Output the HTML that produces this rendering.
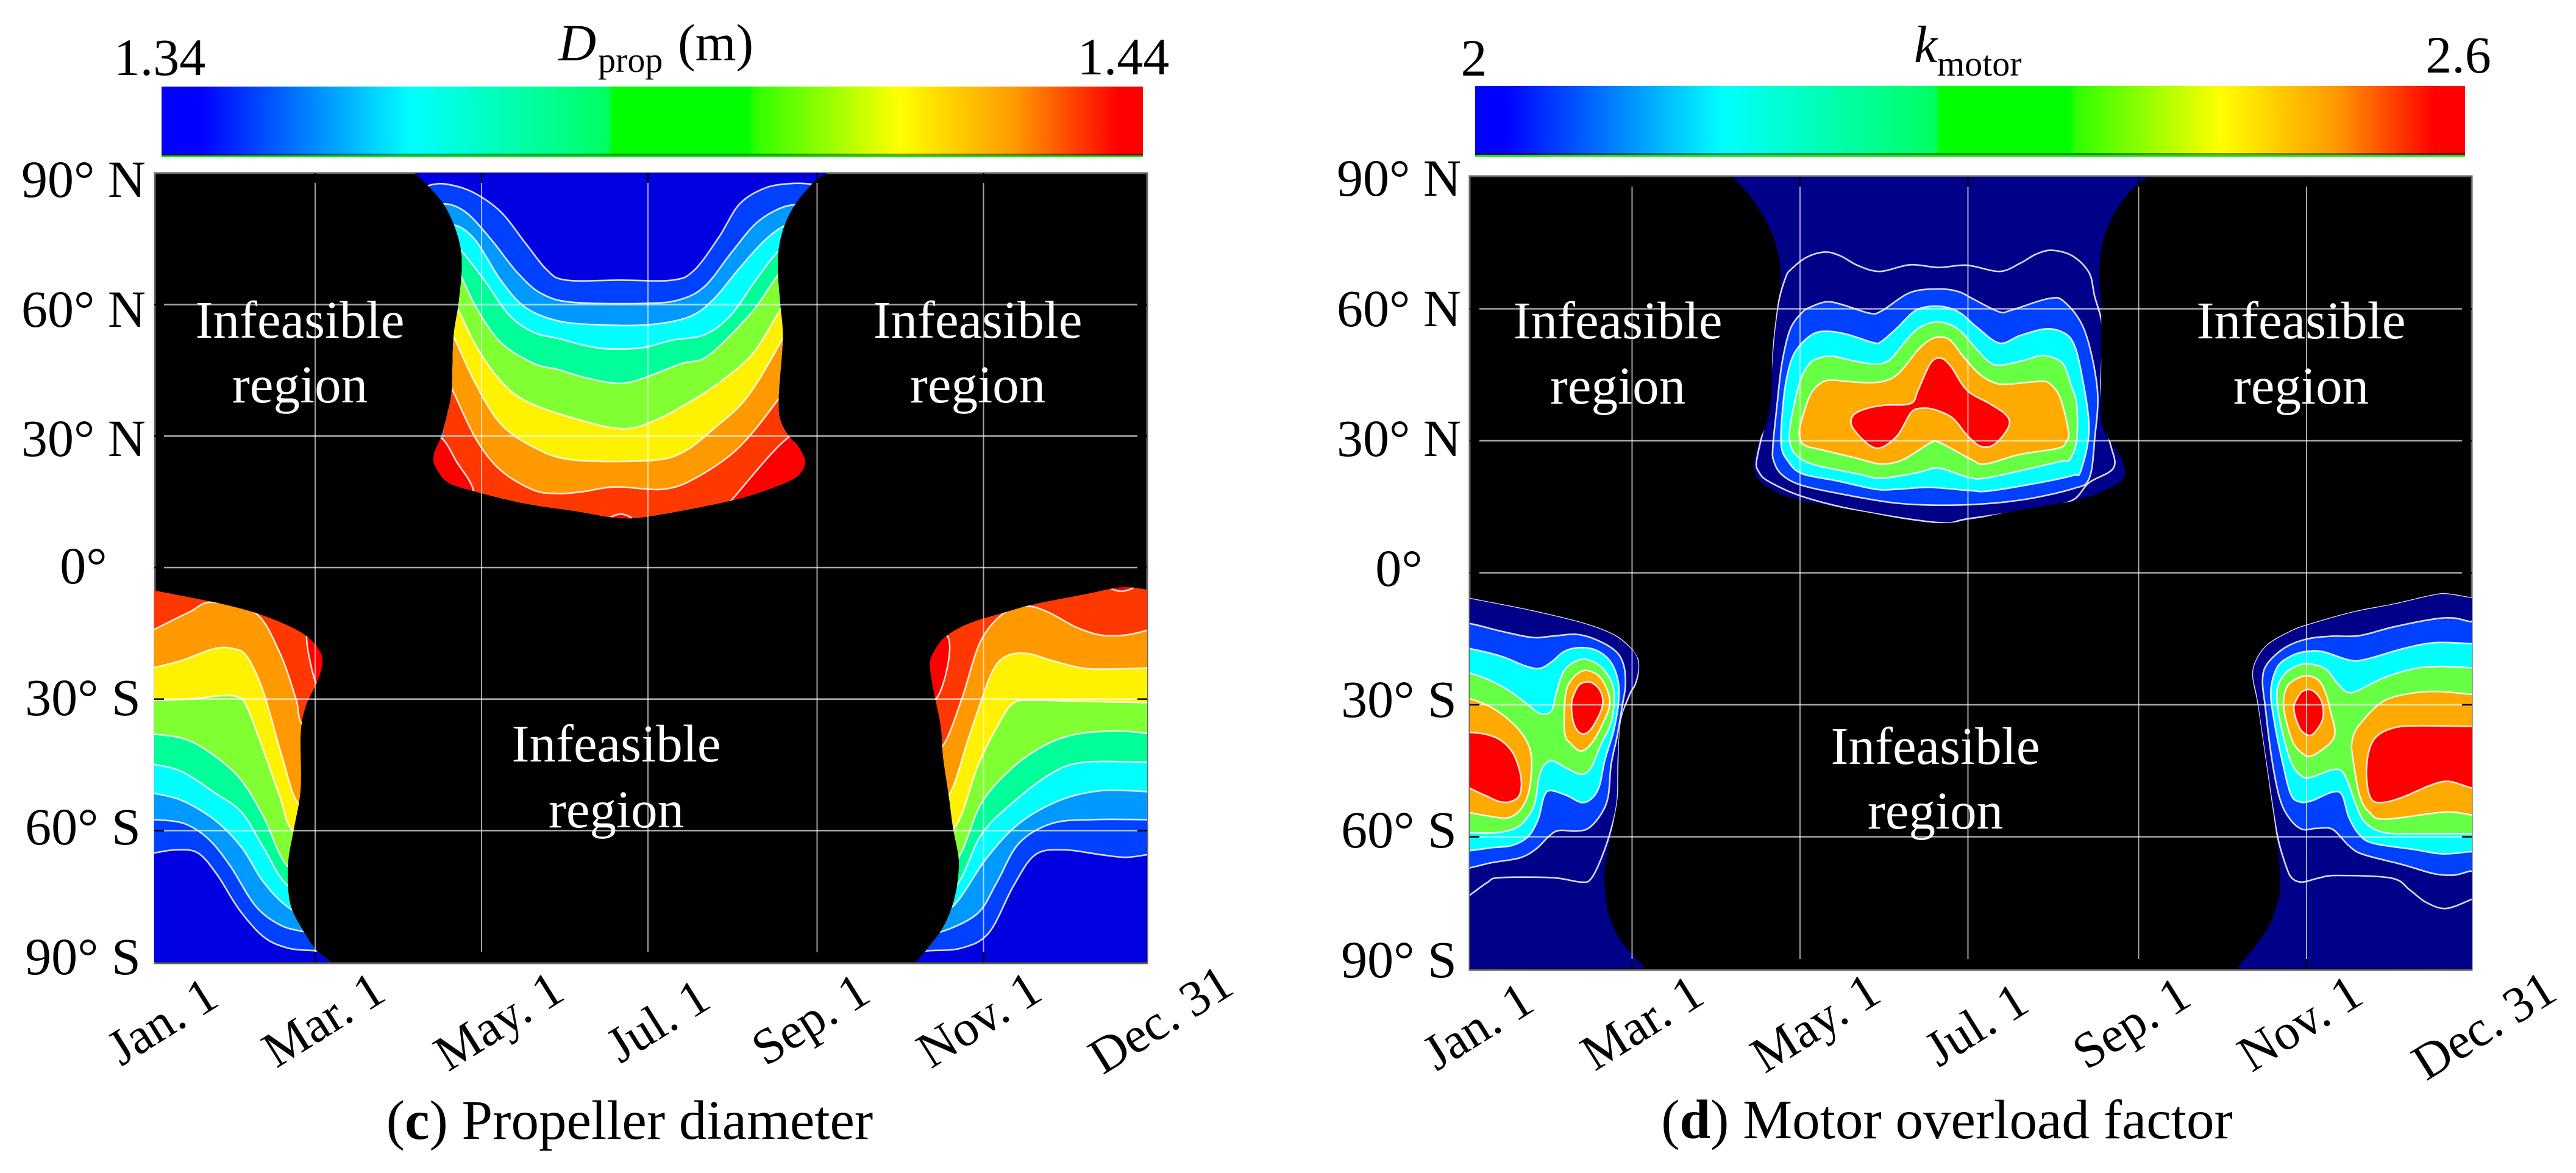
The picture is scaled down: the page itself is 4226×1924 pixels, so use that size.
<!DOCTYPE html>
<html lang="en">
<head>
<meta charset="utf-8">
<title>Propeller diameter and motor overload factor</title>
<style>
html,body{margin:0;padding:0;background:#fff;width:4226px;height:1924px;overflow:hidden}
svg{display:block}
text{font-family:"Liberation Serif",serif;font-size:86px;fill:#000}
.w{fill:#fff;font-size:87px;text-anchor:middle}
.m{text-anchor:middle}
.e{text-anchor:end;font-size:83px}
.cap{text-anchor:middle;font-size:91px}
</style>
</head>
<body>
<svg id="fig" xmlns="http://www.w3.org/2000/svg" width="4226" height="1924" viewBox="0 0 4226 1924">
<defs>
<linearGradient id="cbC" x1="0" x2="1" y1="0" y2="0">
<stop offset="0" stop-color="#0000ff"/><stop offset=".04" stop-color="#0000ff"/><stop offset=".254" stop-color="#00ffff"/><stop offset=".455" stop-color="#00ff60"/><stop offset=".46" stop-color="#00ff00"/><stop offset=".597" stop-color="#00ff00"/><stop offset=".606" stop-color="#30ff00"/><stop offset=".752" stop-color="#ffff00"/><stop offset=".87" stop-color="#ff9900"/><stop offset=".975" stop-color="#ff0000"/><stop offset="1" stop-color="#ff0000"/>
</linearGradient>
<linearGradient id="cbD" x1="0" x2="1" y1="0" y2="0">
<stop offset="0" stop-color="#0000ff"/><stop offset=".03" stop-color="#0000ff"/><stop offset=".25" stop-color="#00ffff"/><stop offset=".465" stop-color="#00ff60"/><stop offset=".47" stop-color="#00ff00"/><stop offset=".6" stop-color="#00ff00"/><stop offset=".608" stop-color="#30ff00"/><stop offset=".753" stop-color="#ffff00"/><stop offset=".87" stop-color="#ff9900"/><stop offset=".97" stop-color="#ff0000"/><stop offset="1" stop-color="#ff0000"/>
</linearGradient>
</defs>

<g>
<rect x="265" y="255" width="1610" height="3" fill="#00f000"/>
<rect x="265" y="142" width="1610" height="113" fill="url(#cbC)"/>
<rect x="265" y="252" width="1610" height="3" fill="#000" fill-opacity=".45"/>
<text class="m" x="262" y="123">1.34</text>
<text class="m" x="1843" y="122">1.44</text>
<text x="916" y="99"><tspan font-style="italic">D</tspan><tspan x="981" y="118" font-size="58">prop</tspan><tspan x="1112" y="99">(m)</tspan></text>
</g>
<g>
<rect x="2420" y="254" width="1624" height="3" fill="#00f000"/>
<rect x="2420" y="141" width="1624" height="113" fill="url(#cbD)"/>
<rect x="2420" y="251" width="1624" height="3" fill="#000" fill-opacity=".45"/>
<text class="m" x="2418" y="124">2</text>
<text class="m" x="4033" y="119">2.6</text>
<text x="3140" y="102"><tspan font-style="italic">k</tspan><tspan x="3178" y="124" font-size="58">motor</tspan></text>
</g>

<rect x="254" y="284" width="1628" height="1296" fill="#000" stroke="#666" stroke-width="3"/>
<rect x="2411" y="289" width="1644" height="1302" fill="#000" stroke="#666" stroke-width="3"/>

<g id="plotC"></g>
<g id="plotD"></g>
<g id="gridC"></g>
<g id="gridD"></g>

<g>
<text class="m" x="137" y="323">90° N</text>
<text class="m" x="137" y="536">60° N</text>
<text class="m" x="137" y="748">30° N</text>
<text class="m" x="137" y="957">0°</text>
<text class="m" x="136" y="1173">30° S</text>
<text class="m" x="136" y="1385">60° S</text>
<text class="m" x="136" y="1598">90° S</text>
</g>
<g>
<text class="m" x="2295" y="321">90° N</text>
<text class="m" x="2295" y="535">60° N</text>
<text class="m" x="2295" y="748">30° N</text>
<text class="m" x="2295" y="961">0°</text>
<text class="m" x="2295" y="1176">30° S</text>
<text class="m" x="2295" y="1390">60° S</text>
<text class="m" x="2295" y="1603">90° S</text>
</g>
<g>
<text class="e" transform="translate(363,1647) rotate(-32)">Jan. 1</text>
<text class="e" transform="translate(637,1638) rotate(-32)">Mar. 1</text>
<text class="e" transform="translate(930,1637) rotate(-32)">May. 1</text>
<text class="e" transform="translate(1170,1650) rotate(-32)">Jul. 1</text>
<text class="e" transform="translate(1432,1640) rotate(-32)">Sep. 1</text>
<text class="e" transform="translate(1714,1637) rotate(-32)">Nov. 1</text>
<text class="e" transform="translate(2028,1627) rotate(-32)">Dec. 31</text>
</g>
<g>
<text class="e" transform="translate(2521,1655) rotate(-32)">Jan. 1</text>
<text class="e" transform="translate(2800,1643) rotate(-32)">Mar. 1</text>
<text class="e" transform="translate(3090,1640) rotate(-32)">May. 1</text>
<text class="e" transform="translate(3333,1656) rotate(-32)">Jul. 1</text>
<text class="e" transform="translate(3599,1646) rotate(-32)">Sep. 1</text>
<text class="e" transform="translate(3881,1643) rotate(-32)">Nov. 1</text>
<text class="e" transform="translate(4199,1637) rotate(-32)">Dec. 31</text>
</g>

<g>
<text class="w" x="492" y="554">Infeasible</text>
<text class="w" x="492" y="660">region</text>
<text class="w" x="1604" y="554">Infeasible</text>
<text class="w" x="1604" y="660">region</text>
<text class="w" x="1011" y="1249">Infeasible</text>
<text class="w" x="1011" y="1357">region</text>
</g>
<g>
<text class="w" x="2654" y="555">Infeasible</text>
<text class="w" x="2654" y="662">region</text>
<text class="w" x="3775" y="555">Infeasible</text>
<text class="w" x="3775" y="662">region</text>
<text class="w" x="3175" y="1253">Infeasible</text>
<text class="w" x="3175" y="1359">region</text>
</g>

<text class="cap" x="1033" y="1868">(<tspan font-weight="bold">c</tspan>) Propeller diameter</text>
<text class="cap" x="3194" y="1867">(<tspan font-weight="bold">d</tspan>) Motor overload factor</text>
</svg>

<script>
// Axis tick values (day of year, latitude in degrees)
const gridDays = [60, 121, 182, 244, 305];
const gridLats = [60, 30, 0, -30, -60];

// ===== Panel (c): propeller diameter. All points are [day of year, latitude] =====
const cNorthBoundary = [[96.6,90],[101.7,86.9],[107.1,82.9],[111,78],[113.4,72.7],[113.7,67.4],[112.5,60],[110.7,52.3],[110.1,40.8],[108.6,35.5],[106.2,30],[103.5,25.7],[104.1,23.1],[108.6,19.5],[119.1,17.3],[137.2,14.6],[155.3,12.9],[171.8,11.3],[185.4,12],[212.5,15.3],[227.5,18.2],[236.6,20.8],[239.6,24],[237.2,27.5],[233.6,30],[230.5,33.7],[229.9,39],[231.4,52.3],[230.5,60],[229.6,67.4],[229.9,72.7],[232,78],[236,82.9],[242.6,87.8],[247.7,90]];
const cN1 = [[97,86],[103,87.4],[109,87.4],[118,85.6],[128,81.2],[137,74.1],[145,67.9],[152,65.6],[172,65.6],[191,65.6],[199,67.9],[208,75.4],[215.5,82.9],[224.5,86.5],[233.6,87.6],[242.6,87.4],[248.6,86]];
const cN2 = [[103,82.5],[109,82.9],[116,80.7],[125,74.5],[134,67.4],[143,62.5],[155,60.5],[182,60.3],[194,61.2],[203,64.3],[212.5,71.8],[221.5,78.5],[230.5,82],[238,82.9],[243,82.5]];
const cN3 = [[107,77.2],[112,78],[119,74.5],[128,65.6],[137,59.4],[149,56.3],[164,55.4],[182,55.4],[197,57.2],[206,61.2],[215.5,68.3],[224.5,74.5],[232,78],[238,78.5]];
const cN4 = [[109,74.5],[113,72.7],[122,65.6],[131,57.7],[140,53.7],[149,52.3],[164,50.1],[179,50.1],[191,51.9],[203,53.2],[212.5,57.7],[221.5,65.6],[230,72.3],[237,74.5]];
const cN5 = [[109,69.2],[113,67],[119,59.4],[128,51.4],[140,46.6],[149,45.2],[158,43.5],[169,42.1],[176,42.4],[185,44.3],[194.5,46.6],[203,47.9],[212.5,53.2],[221.5,59.4],[230,67],[235,69.2]];
const cN6 = [[109,62.1],[112,59.4],[119,50.6],[128,42.6],[137,38.1],[152,34.6],[172,31.7],[185,33.7],[200.5,39],[212.5,44.3],[221.5,49.7],[231.5,59.9],[237,63.9]];
const cN7 = [[107,56.8],[111,52.3],[119,41.7],[128,32.8],[140,27.5],[154,24.6],[182,24.4],[194.5,26.2],[206.5,31.9],[218.5,39],[231.5,52.3],[237,58.5]];
const cN8 = [[107,44.3],[110.4,40.4],[119,29.3],[128,22.2],[140,17.7],[149,16.9],[158,17.3],[170,18.4],[188,17.9],[200.5,20.8],[215.5,27.5],[230,38.6],[235,44.3]];
const cNorthContours = [cN1, cN2, cN3, cN4, cN5, cN6, cN7, cN8];
const cNorthRedLeft = [[98,29.7],[106,29.7],[112,24],[118,17.7],[118,10],[98,10]];
const cNorthRedRight = [[233.5,29.7],[212.5,15.3],[205,10],[245,10],[245,29.7]];
const cNorthRedTip = [[168,11.2],[172,12.2],[176,11.2],[172,10]];

const cSouthLeftBoundary = [[1,-5.2],[23,-7.9],[38,-10.3],[50,-13.2],[57.4,-15.9],[62,-19.4],[62.5,-22.5],[60.4,-26.5],[56.5,-31.8],[54.7,-38],[54.7,-50.4],[52.3,-59.3],[50.2,-66.4],[50,-72.6],[51.4,-77.9],[56,-83.3],[60.4,-87.3],[65.8,-90]];
const cSouthRightBoundary = [[280.2,-90],[284.7,-86.8],[289.9,-82.4],[293.2,-77.9],[295.3,-72.6],[295.9,-66.4],[293.8,-59.3],[292.3,-52.2],[290.2,-43.4],[289.3,-36.3],[287.2,-29.6],[285.4,-22.9],[286.3,-19.8],[290.8,-15.9],[299.8,-12.7],[313.4,-10.1],[323.9,-8.3],[342,-6.1],[355.5,-4.5],[365,-5]];
const cA1 = [[1,-14.1],[14,-10.1],[22,-7.9],[38,-10.3],[47,-19.4],[53,-30],[56,-36.3],[71,-41.6]];
const cA2 = [[1,-22.8],[11,-21.2],[23,-18.5],[30,-18.5],[35,-20.3],[41,-28.3],[48,-43.4],[54,-54],[65,-56.7]];
const cA3 = [[1,-30.3],[14,-30],[26,-29.2],[32,-29.6],[35,-31.8],[41,-41.6],[47,-52.2],[52,-60.2],[65,-62.9]];
const cA4 = [[1,-38],[11,-38.9],[20,-41.6],[32,-47.8],[41,-56.7],[50,-68.2],[65,-72.6]];
const cA5 = [[1,-44.9],[11,-46.5],[23,-51.3],[33,-55.8],[41,-63.8],[50,-72.6],[65,-77.1]];
const cA6 = [[1,-51.5],[11,-53.1],[23,-57.5],[33,-63.8],[41,-71.7],[51,-77.9],[65,-81.5]];
const cA7 = [[1,-57.5],[12,-58.4],[21,-62],[29,-68.2],[38,-77.1],[47,-81.5],[56,-83.1],[65,-84.2]];
const cA8 = [[1,-65.1],[9,-64.4],[17,-65.1],[24,-70],[32,-77.9],[41,-84.2],[50,-86.8],[60,-87.4],[71,-87.7]];
const cSouthLeftContours = [cA1, cA2, cA3, cA4, cA5, cA6, cA7, cA8];
const cSouthLeftRed = [[57,-15],[60.4,-26.5],[65,-26.5],[65,-15]];
const cB1 = [[282,-42.5],[290,-40.7],[297,-30],[304,-16.7],[313,-10.1],[321,-8.8],[328.5,-10.1],[339,-13.6],[348,-15.4],[357,-15.4],[365,-14.3]];
const cB2 = [[282,-54],[292,-52.2],[300,-38],[307.5,-24.7],[313,-20.3],[321,-19.6],[330,-21.2],[342,-23],[354,-23.1],[365,-22.9]];
const cB3 = [[282,-62.9],[294.5,-59.3],[303,-45.1],[310,-36.3],[316,-30.9],[324,-30.3],[342,-30.5],[365,-30.8]];
const cB4 = [[282,-70],[295,-66.9],[304,-54],[315,-46],[327,-40.7],[339,-38],[354,-37.3],[365,-37.8]];
const cB5 = [[282,-77.1],[295,-72.6],[304,-61.1],[315,-54],[330,-46.9],[342,-44.4],[365,-44.4]];
const cB6 = [[282,-80.6],[294,-77.1],[306,-66.4],[318,-58.4],[333,-53.1],[348,-50.9],[365,-51.1]];
const cB7 = [[282,-83.7],[291,-82.8],[303,-78.8],[310,-71.7],[318,-62.9],[330,-58.4],[345,-57.5],[365,-57.5]];
const cB8 = [[279,-87.7],[285,-87.4],[297,-86.8],[307,-83.3],[316,-72.6],[324,-65.5],[334.5,-64.4],[348,-65.5],[357,-66.1],[365,-65.5]];
const cSouthRightContours = [cB1, cB2, cB3, cB4, cB5, cB6, cB7, cB8];
const cSouthRightRed = [[276,-15.9],[292,-15.9],[288,-29.6],[276,-29.6]];
const cSouthRightTip = [[351,-3],[351,-4.5],[355.5,-5.4],[360,-4.5],[360,-3]];

// ===== Panel (d): motor overload factor =====
const dNorthBoundary = [[96.4,90],[103.6,85],[109.6,78.8],[113,72.6],[114,66.4],[112.5,59.4],[111,50.5],[110.5,39.9],[108.7,33.8],[105.7,29.3],[104.2,24.9],[105.7,21.4],[111,18.8],[120,16.7],[143.9,13.9],[172.2,11.3],[197.6,13.9],[221.5,16.5],[233.4,19.2],[238.8,21.8],[237.9,25.8],[233.4,30.2],[230.4,34.6],[230.4,41.7],[230.4,59.4],[229.8,68.2],[231,75.3],[234.9,81.4],[240.9,86.7],[247.4,90]];
const dN1 = [[113.3,61.8],[115.9,67.3],[117.8,69],[123.3,71.7],[130,72.9],[135.8,72],[141.8,69.9],[149.9,68.5],[161,70],[171.3,69.4],[181.6,69.9],[193.4,68.5],[200.8,70.3],[206.7,72.4],[212.6,73.3],[220,72],[226,68.2],[228,62.9],[231,55],[230.4,41.7],[233.4,30.2],[235,24],[226,20.5],[220,16.5],[208.2,14.7],[182.3,12.3],[171.3,11.4],[141.8,14.2],[121.1,17.5],[109.3,20.9],[106,23],[105.2,25.3],[107.4,31.8],[109.3,36.9],[110.4,45.2],[111.5,53.9]];
const dN2 = [[124.8,60.4],[130.7,61.6],[136.6,60.9],[146.2,59],[150.6,59.5],[161,63.7],[171.3,64.5],[178.6,63.9],[184.6,62],[193.4,59.3],[197.8,59.7],[211.1,62.3],[217,61.6],[224.4,55],[229,41.7],[228,30.2],[226,21.4],[220,19.1],[200.8,16.5],[178.6,15.4],[156.5,15.8],[134.4,18.1],[121.1,20],[114.4,22.3],[111.5,25.3],[111.1,28.5],[112.6,37.8],[114.4,47.5],[117.4,55.3],[121.5,59]];
const dN3 = [[125.5,54.2],[130.7,54.9],[138.1,54.2],[147.7,52.3],[150.6,52.6],[156.5,55.8],[163.2,59.7],[171.3,60.6],[178.6,59.3],[185.3,55.8],[193.4,52.2],[200.8,53.9],[209.6,55.4],[215.6,54.9],[220,52.6],[223,46.1],[226,32.9],[223,23.2],[220,22.1],[208.2,20.5],[189.7,18.6],[182.3,18.7],[168.3,19.4],[156.5,19],[148.4,19],[134.4,20.9],[121.8,22.5],[116.7,25.3],[114.1,29.5],[115.2,40.5],[117.4,47.5],[120.3,51.2]];
const dN4 = [[128.5,48.9],[133,49.2],[140.3,48.2],[147.7,47.5],[153.6,48.4],[161,53.9],[166.1,56.3],[172,57],[178.6,55.3],[184.6,51.2],[189.7,47.9],[194.1,47.2],[203,48.4],[208.9,49.4],[214.1,48.6],[217,47],[219.6,42.4],[221.5,38.2],[221.5,30.2],[219,25.8],[215.6,25.3],[204.5,23.7],[188.2,21.5],[181.6,21.8],[171.3,23.8],[163.9,22.8],[150.6,21.5],[141.8,22.5],[127,24.4],[121.1,26],[117.8,28.5],[117.4,33.2],[120.7,42.9],[124.4,47.5]];
const dN5 = [[132.2,43.8],[138.1,43.5],[147,43.2],[153.6,44],[158,46.1],[163.9,50.7],[168.3,53],[172,53.6],[175.7,52.8],[180.1,49.3],[186.1,45.2],[192,43.1],[197.1,42.9],[208.2,43.5],[211.9,42.9],[215.6,39.6],[218.5,32.2],[217.8,29.9],[214.8,28.3],[200.8,26.9],[188.2,24.7],[183.1,25.8],[172,29.5],[168.3,29.5],[158.7,25.8],[150.6,24.7],[141.8,26],[129.2,27.9],[122.6,29],[120.7,31.3],[121.5,34.5],[124.8,40.5],[128.5,43.1]];
const dN6 = [[139.5,34.3],[141,36.2],[146.2,37.5],[152.1,38.1],[161.3,38.5],[163.9,41.5],[168.3,47.5],[171.9,48.8],[175.7,47],[181.6,41.5],[189.7,38.5],[195.3,36.2],[197.1,34.1],[194.9,31.3],[190.8,28.9],[186.4,28.8],[181.6,31.3],[176.4,35.2],[169.8,37.1],[165,37.4],[161.3,36.4],[156.5,31.3],[150.6,28.5],[146.2,29],[141,32.2]];
const dNorthLoops = [dN2, dN3, dN4, dN5, dN6];

const dSouthLeftBoundary = [[1,-5.7],[23.7,-8.5],[42.1,-11.3],[53.2,-13.9],[59.1,-16.7],[62,-19.2],[62.6,-21.5],[61.7,-24.9],[59.1,-28.3],[56.5,-32.3],[55.4,-36.8],[55,-45.3],[54.7,-51.5],[52.4,-59.4],[50.2,-66.8],[50.1,-71.8],[51.7,-78],[55.4,-83.2],[59.8,-86.5],[65,-89.9]];
const dSouthRightBoundary = [[279.7,-89.9],[290,-81.7],[294.5,-74.9],[295.3,-71.2],[295.3,-67.5],[294.1,-60.1],[291.6,-49],[289.3,-38.9],[287.1,-29.6],[285.3,-23.6],[286.4,-20],[290.8,-16.2],[299.7,-13],[307,-11.4],[321.8,-8.8],[336.6,-7],[351.3,-4.9],[356.5,-4.7],[365,-5.6]];
const dLeftLine = [[1,-73.3],[7.4,-70.4],[11.8,-69.3],[31,-69.3],[41.4,-70.3],[45,-69.6],[48.7,-65.1],[52.4,-58.3],[54.7,-51.5],[55,-42.4],[56.1,-33.4],[59.1,-27.7],[61.3,-25.2],[62.6,-21.5],[61.7,-18.7],[59.1,-16.7],[53.2,-13.9],[42.1,-11.3],[23.7,-8.5],[1,-5.7]];
const dL2 = [[-8,-11],[1.5,-11.6],[12.6,-13.3],[23.7,-14.7],[31,-14.4],[39.9,-14],[47.3,-15.3],[54,-17.8],[56.9,-20.9],[57.6,-25.5],[56.5,-30],[54.7,-36.8],[52.4,-43.6],[51.3,-50.9],[48.7,-54.9],[44.3,-58],[39.9,-58.7],[33.2,-58.6],[29.6,-60],[25.1,-62.8],[19.2,-64.8],[8.9,-65.9],[1.5,-67],[-8,-68]];
const dL3 = [[-8,-16.5],[1.5,-17.3],[12.6,-19],[21.4,-21.2],[26.6,-21.7],[31,-20.1],[35.5,-17.8],[41.4,-17],[47.3,-17.7],[52.4,-20.4],[55,-24.9],[55,-30],[53.2,-36.2],[50.2,-42.4],[48,-48.7],[45,-51.5],[41.4,-52.2],[36.2,-50.6],[30.3,-49.5],[28,-50.9],[25.9,-56],[22.2,-60],[16.3,-62],[8.9,-62.5],[1.5,-63.1],[-8,-63.5]];
const dL4 = [[-8,-22],[1.5,-22.9],[8.9,-24.6],[16.3,-27.2],[22.2,-30],[26.6,-32],[30.7,-31.4],[32.5,-27.2],[35.5,-22.1],[41.4,-19.7],[47.3,-20.7],[51.7,-23.8],[53.5,-27.7],[52.4,-34],[48.7,-39],[45,-44.4],[41.4,-45.8],[36.2,-44.4],[30.3,-42.7],[26.6,-45.5],[24.8,-52],[22.2,-55.4],[17.8,-58],[10.4,-59.1],[1.5,-59.1],[-8,-59.1]];
const dL5 = [[-8,-27.5],[1.5,-28.7],[8.9,-30.6],[16.3,-34],[21.4,-37.9],[23.5,-42.4],[22.5,-49.8],[19.2,-54],[14.8,-55.7],[8.9,-55.4],[1.5,-54.6],[-8,-53.5]];
const dL6 = [[-8,-36],[1.5,-36.3],[7.4,-36.8],[12.6,-38.2],[17,-41.3],[19.6,-46.4],[19.2,-50.4],[15.9,-52],[11.8,-52],[6.7,-50.6],[1.5,-49.1],[-8,-46]];
const dL7 = [[42.8,-22.2],[48,-23.5],[51.3,-27.2],[51.7,-30.6],[48.7,-35.1],[45,-39],[41.4,-40.5],[37.7,-38.8],[35.5,-36.2],[35.8,-27.7],[38.4,-24]];
const dL8 = [[41.4,-25.2],[45.4,-25],[48.7,-27.2],[49.1,-30.6],[45,-35.6],[41.4,-36.5],[38.8,-34.2],[38,-30],[39.2,-27.2]];
const dSouthLeftLoops = [dL2, dL3, dL4, dL5, dL6, dL7, dL8];

const dRightLine = [[365,-74.2],[355.7,-76.3],[348.4,-74.9],[342.5,-72.1],[335.8,-69.4],[315.9,-68.8],[309.3,-69.4],[303.4,-70.3],[299.7,-69.4],[297.5,-66.6],[294.5,-60.1],[291.6,-49],[287.1,-29.6],[285.3,-23.6],[286.4,-20],[290.8,-16.2],[299.7,-13],[307,-11.4],[321.8,-8.8],[336.6,-7],[351.3,-4.9],[356.5,-4.7],[365,-5.6]];
const dR2 = [[373,-67],[364.5,-67.8],[358.7,-68.7],[351.3,-68.4],[340.3,-66.4],[325.5,-64],[320.3,-62],[314.4,-58.3],[308.5,-58.1],[303.4,-58.3],[299,-56],[295.3,-51.4],[292.3,-42.1],[290,-30.6],[289,-24.6],[290.5,-20.9],[296.7,-17.2],[304.8,-15.1],[314.4,-14.4],[324,-14.3],[336.6,-12.3],[351.3,-10.5],[358.7,-10.3],[364.5,-11.1],[373,-11.5]];
const dR3 = [[373,-63],[364.5,-63.4],[354.3,-63.9],[344,-62.9],[329.2,-61.5],[324,-59.4],[320.3,-55.5],[317.8,-50.4],[314.1,-49.9],[307,-51.8],[302.6,-52.1],[299.3,-50.4],[296.4,-43.5],[293.4,-34.3],[292,-26.9],[294.5,-21.3],[299.7,-18.8],[304.8,-17.9],[310.8,-17.9],[320.3,-19.8],[326.2,-19.7],[340.3,-17.2],[351.3,-15.9],[364.5,-16.1],[373,-16.5]];
const dR4 = [[373,-59.3],[364.5,-59.3],[344,-59.3],[332.9,-59],[326.2,-56.7],[322.9,-52.7],[320.3,-48.1],[317.8,-45.1],[314.1,-44.8],[307,-46.4],[303.4,-46.3],[299.7,-43.5],[296.7,-37.5],[294.5,-30.6],[294.5,-26],[297.5,-22.7],[302.6,-20.9],[307,-20.8],[312.2,-22],[316.7,-25.5],[321.5,-27.2],[332.9,-23.9],[344,-21.8],[353.6,-21.3],[364.5,-21.6],[373,-22]];
const dR5 = [[373,-55.5],[364.5,-55],[355,-54.4],[333.6,-56],[328.1,-54.6],[324.4,-50.9],[321.8,-42.1],[321.5,-38.4],[324,-34.7],[332.9,-29.2],[344,-27.3],[353.6,-27],[364.5,-27.6],[373,-28]];
const dR6 = [[373,-50],[364.5,-48.8],[356.5,-47.4],[349.9,-48.3],[340.3,-50.9],[332.9,-52.2],[328.5,-51.4],[326.8,-46.7],[327.4,-41.2],[330,-37.5],[335.8,-35.4],[344,-34.8],[364.5,-34.9],[373,-34.9]];
const dR7 = [[305.6,-23.4],[309.6,-24.6],[312.2,-27.8],[313.7,-31.5],[315.3,-35.9],[313.7,-38.6],[307,-41.6],[303.4,-41],[299.7,-38],[296.7,-30.6],[297.8,-26],[301.9,-23.9]];
const dR8 = [[303.4,-27],[307,-26.7],[310.4,-29.2],[310.8,-33.3],[307,-36.8],[303.4,-36.1],[301.2,-33.3],[300.4,-30.6],[301.2,-29]];
const dSouthRightLoops = [dR2, dR3, dR4, dR5, dR6, dR7, dR8];

// Fill colours
const cNorthColors = ['#0040ff','#0099ff','#00ffff','#00ff99','#80ff33','#fff200','#ff9900','#ff3800'];
const cSouthColors = ['#ff9900','#fff200','#80ff33','#00ff99','#00ffff','#0099ff','#0040ff','#0000e1'];
const dNorthColors = ['#0040ff','#00ffff','#66ff44','#ffaa00','#ff0000'];
const dSouthColors = ['#0040ff','#00ffff','#66ff44','#ffaa00','#ff0000','#ffaa00','#ff0000'];

// Axis functions
const cx = d => 253 + (d - 1) * 1629 / 364;
const cy = lat => 284 + (90 - lat) * 1294 / 180;
const dx = d => 2411 + (d - 1) * 1644 / 364;
const dy = lat => 290 + (90 - lat) * 1299 / 180;

const NS = 'http://www.w3.org/2000/svg';
const fig = document.getElementById('fig');
const defs = fig.querySelector('defs');

function toPixels(points, X, Y) {
  return points.map(p => [X(p[0]), Y(p[1])]);
}
function smoothOpen(px) {
  let s = 'M' + px[0][0].toFixed(1) + ' ' + px[0][1].toFixed(1);
  for (let i = 0; i < px.length - 1; i++) {
    const a = px[Math.max(i - 1, 0)], b = px[i], c = px[i + 1], e = px[Math.min(i + 2, px.length - 1)];
    s += 'C' + (b[0] + (c[0] - a[0]) / 6).toFixed(1) + ' ' + (b[1] + (c[1] - a[1]) / 6).toFixed(1) + ' ' +
      (c[0] - (e[0] - b[0]) / 6).toFixed(1) + ' ' + (c[1] - (e[1] - b[1]) / 6).toFixed(1) + ' ' +
      c[0].toFixed(1) + ' ' + c[1].toFixed(1);
  }
  return s;
}
function smoothClosed(px) {
  const n = px.length;
  let s = 'M' + px[0][0].toFixed(1) + ' ' + px[0][1].toFixed(1);
  for (let i = 0; i < n; i++) {
    const a = px[(i - 1 + n) % n], b = px[i], c = px[(i + 1) % n], e = px[(i + 2) % n];
    s += 'C' + (b[0] + (c[0] - a[0]) / 6).toFixed(1) + ' ' + (b[1] + (c[1] - a[1]) / 6).toFixed(1) + ' ' +
      (c[0] - (e[0] - b[0]) / 6).toFixed(1) + ' ' + (c[1] - (e[1] - b[1]) / 6).toFixed(1) + ' ' +
      c[0].toFixed(1) + ' ' + c[1].toFixed(1);
  }
  return s + 'Z';
}
function addPath(parent, name, d, fill, stroke) {
  const el = document.createElementNS(NS, 'path');
  
  
  el.setAttribute('d', d);
  el.setAttribute('fill', fill);
  if (stroke) {
    el.setAttribute('stroke', '#ffffff');
    el.setAttribute('stroke-width', '2.6');
    el.setAttribute('stroke-opacity', '0.85');
  }
  parent.appendChild(el);
  return el;
}
function makeRegion(parent, id, name, shape, base) {
  const cp = document.createElementNS(NS, 'clipPath');
  cp.setAttribute('id', id);
  const cpPath = document.createElementNS(NS, 'path');
  cpPath.setAttribute('d', shape);
  cp.appendChild(cpPath);
  defs.appendChild(cp);
  const g = document.createElementNS(NS, 'g');
  
  
  g.setAttribute('clip-path', 'url(#' + id + ')');
  parent.appendChild(g);
  addPath(g, name + '-base', shape, base, false);
  return g;
}
// Fill everything below each contour curve, then stroke the curve.
function drawLevels(g, contours, colors, X, Y) {
  const bottom = Y(-90) + 10;
  contours.forEach((c, i) => {
    const px = toPixels(c, X, Y);
    const line = smoothOpen(px);
    addPath(g, 'contour-band', line + 'L' + px[px.length - 1][0] + ' ' + bottom + 'L' + px[0][0] + ' ' + bottom + 'Z', colors[i], false);
    addPath(g, 'contour-line', line, 'none', true);
  });
}
function drawLoops(g, loops, colors, X, Y) {
  loops.forEach((c, i) => {
    addPath(g, 'contour-band', smoothClosed(toPixels(c, X, Y)), colors[i], true);
  });
}

const plotC = document.getElementById('plotC');
const plotD = document.getElementById('plotD');

// Panel c: north
const cNorth = makeRegion(plotC, 'clipCN', 'panel-c-north-region', smoothOpen(toPixels(cNorthBoundary, cx, cy)) + 'Z', '#0000e1');
drawLevels(cNorth, cNorthContours, cNorthColors, cx, cy);
drawLoops(cNorth, [cNorthRedLeft, cNorthRedRight, cNorthRedTip], ['#ff0000', '#ff0000', '#ff0000'], cx, cy);

// Panel c: south left
const cSL = makeRegion(plotC, 'clipCSL', 'panel-c-south-left-region',
  smoothOpen(toPixels(cSouthLeftBoundary, cx, cy)) + 'L' + cx(1) + ' ' + cy(-90) + 'Z', '#ff3800');
drawLoops(cSL, [cSouthLeftRed], ['#ff0000'], cx, cy);
drawLevels(cSL, cSouthLeftContours, cSouthColors, cx, cy);

// Panel c: south right
const cSR = makeRegion(plotC, 'clipCSR', 'panel-c-south-right-region',
  smoothOpen(toPixels(cSouthRightBoundary, cx, cy)) + 'L' + cx(365) + ' ' + cy(-90) + 'Z', '#ff3800');
drawLoops(cSR, [cSouthRightRed, cSouthRightTip], ['#ff0000', '#ff0000'], cx, cy);
drawLevels(cSR, cSouthRightContours, cSouthColors, cx, cy);

// Panel d: north
const dNorth = makeRegion(plotD, 'clipDN', 'panel-d-north-region', smoothOpen(toPixels(dNorthBoundary, dx, dy)) + 'Z', '#000088');
addPath(dNorth, 'contour-line', smoothClosed(toPixels(dN1, dx, dy)), 'none', true);
drawLoops(dNorth, dNorthLoops, dNorthColors, dx, dy);

// Panel d: south left
const dSL = makeRegion(plotD, 'clipDSL', 'panel-d-south-left-region',
  smoothOpen(toPixels(dSouthLeftBoundary, dx, dy)) + 'L' + dx(1) + ' ' + dy(-90) + 'Z', '#000088');
addPath(dSL, 'contour-line', smoothOpen(toPixels(dLeftLine, dx, dy)), 'none', true);
drawLoops(dSL, dSouthLeftLoops, dSouthColors, dx, dy);

// Panel d: south right
const dSR = makeRegion(plotD, 'clipDSR', 'panel-d-south-right-region',
  smoothOpen(toPixels(dSouthRightBoundary, dx, dy)) + 'L' + dx(365) + ' ' + dy(-90) + 'Z', '#000088');
addPath(dSR, 'contour-line', smoothOpen(toPixels(dRightLine, dx, dy)), 'none', true);
drawLoops(dSR, dSouthRightLoops, dSouthColors, dx, dy);

// Grid lines and short tick marks
function addLine(parent, name, x1, y1, x2, y2, color, opacity, width) {
  const el = document.createElementNS(NS, 'line');
  
  
  el.setAttribute('x1', x1);
  el.setAttribute('x2', x2);
  el.setAttribute('y1', y1);
  el.setAttribute('y2', y2);
  el.setAttribute('stroke', color);
  el.setAttribute('stroke-opacity', opacity);
  el.setAttribute('stroke-width', width);
  parent.appendChild(el);
}
function drawGrid(parent, X, Y, inset) {
  gridDays.forEach(d => {
    addLine(parent, 'vertical-gridline', X(d), Y(90) + inset, X(d), Y(-90) - inset, '#ffffff', 0.65, 2);
    addLine(parent, 'x-tick-mark', X(d), Y(-90) - inset, X(d), Y(-90), '#000000', 1, 2.5);
    addLine(parent, 'x-tick-mark', X(d), Y(90), X(d), Y(90) + inset, '#000000', 1, 2.5);
  });
  gridLats.forEach(lat => {
    addLine(parent, 'horizontal-gridline', X(1) + inset, Y(lat), X(365) - inset, Y(lat), '#ffffff', 0.65, 2.6);
    addLine(parent, 'y-tick-mark', X(1), Y(lat), X(1) + inset, Y(lat), '#000000', 1, 2.5);
    addLine(parent, 'y-tick-mark', X(365) - inset, Y(lat), X(365), Y(lat), '#000000', 1, 2.5);
  });
}
drawGrid(document.getElementById('gridC'), cx, cy, 16);
drawGrid(document.getElementById('gridD'), dx, dy, 16);
</script>
</body>
</html>
